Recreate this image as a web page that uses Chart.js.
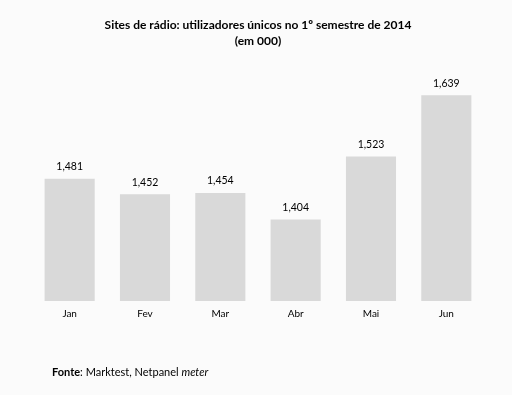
<!DOCTYPE html>
<html>
<head>
<meta charset="utf-8">
<script src="https://cdn.jsdelivr.net/npm/chart.js@4.4.1/dist/chart.umd.min.js"></script>
<style>
  html, body { margin: 0; padding: 0; background: #fbfbfb; }
  #wrap { position: relative; width: 512px; height: 395px; }
  #footer { position: absolute; left: 52px; top: 365px; font-family: Lato, sans-serif; font-size: 11px; color: #000; white-space: nowrap; }
</style>
</head>
<body>
<div id="wrap">
  <canvas id="c" width="512" height="395"></canvas>
  <div id="footer"><b>Fonte</b>: Marktest, Netpanel <i>meter</i></div>
</div>
<script>
const categories = ["Jan", "Fev", "Mar", "Abr", "Mai", "Jun"];
const values = [1481, 1452, 1454, 1404, 1523, 1639];
const titleLines = ["Sites de rádio: utilizadores únicos no 1º semestre de 2014", "(em 000)"];

const valueLabels = {
  id: 'valueLabels',
  afterDatasetsDraw(chart) {
    const ctx = chart.ctx;
    const meta = chart.getDatasetMeta(0);
    ctx.save();
    ctx.font = '10.5px Lato';
    ctx.fillStyle = '#000';
    ctx.textAlign = 'center';
    ctx.textBaseline = 'middle';
    meta.data.forEach((bar, i) => {
      ctx.fillText(values[i].toLocaleString('en-US'), bar.x, bar.y - 12);
    });
    ctx.restore();
  }
};

new Chart(document.getElementById('c'), {
  type: 'bar',
  data: {
    labels: categories,
    datasets: [{
      data: values,
      backgroundColor: '#d9d9d9',
      borderWidth: 0,
      categoryPercentage: 1,
      barPercentage: 0.665
    }]
  },
  options: {
    responsive: false,
    animation: false,
    layout: { padding: { left: 32, right: 28, top: 17, bottom: 68 } },
    plugins: {
      legend: { display: false },
      tooltip: { enabled: false },
      title: {
        display: true,
        text: titleLines,
        color: '#000',
        font: { family: 'Lato', size: 12, weight: 'bold', lineHeight: 1.333 },
        padding: { top: 0, bottom: 14 }
      }
    },
    scales: {
      x: {
        grid: { display: false, drawTicks: false },
        border: { display: false },
        ticks: { color: '#000', font: { family: 'Lato', size: 10 }, padding: 7 }
      },
      y: {
        display: false,
        min: 1250,
        max: 1700
      }
    }
  },
  plugins: [valueLabels]
});
</script>
</body>
</html>
